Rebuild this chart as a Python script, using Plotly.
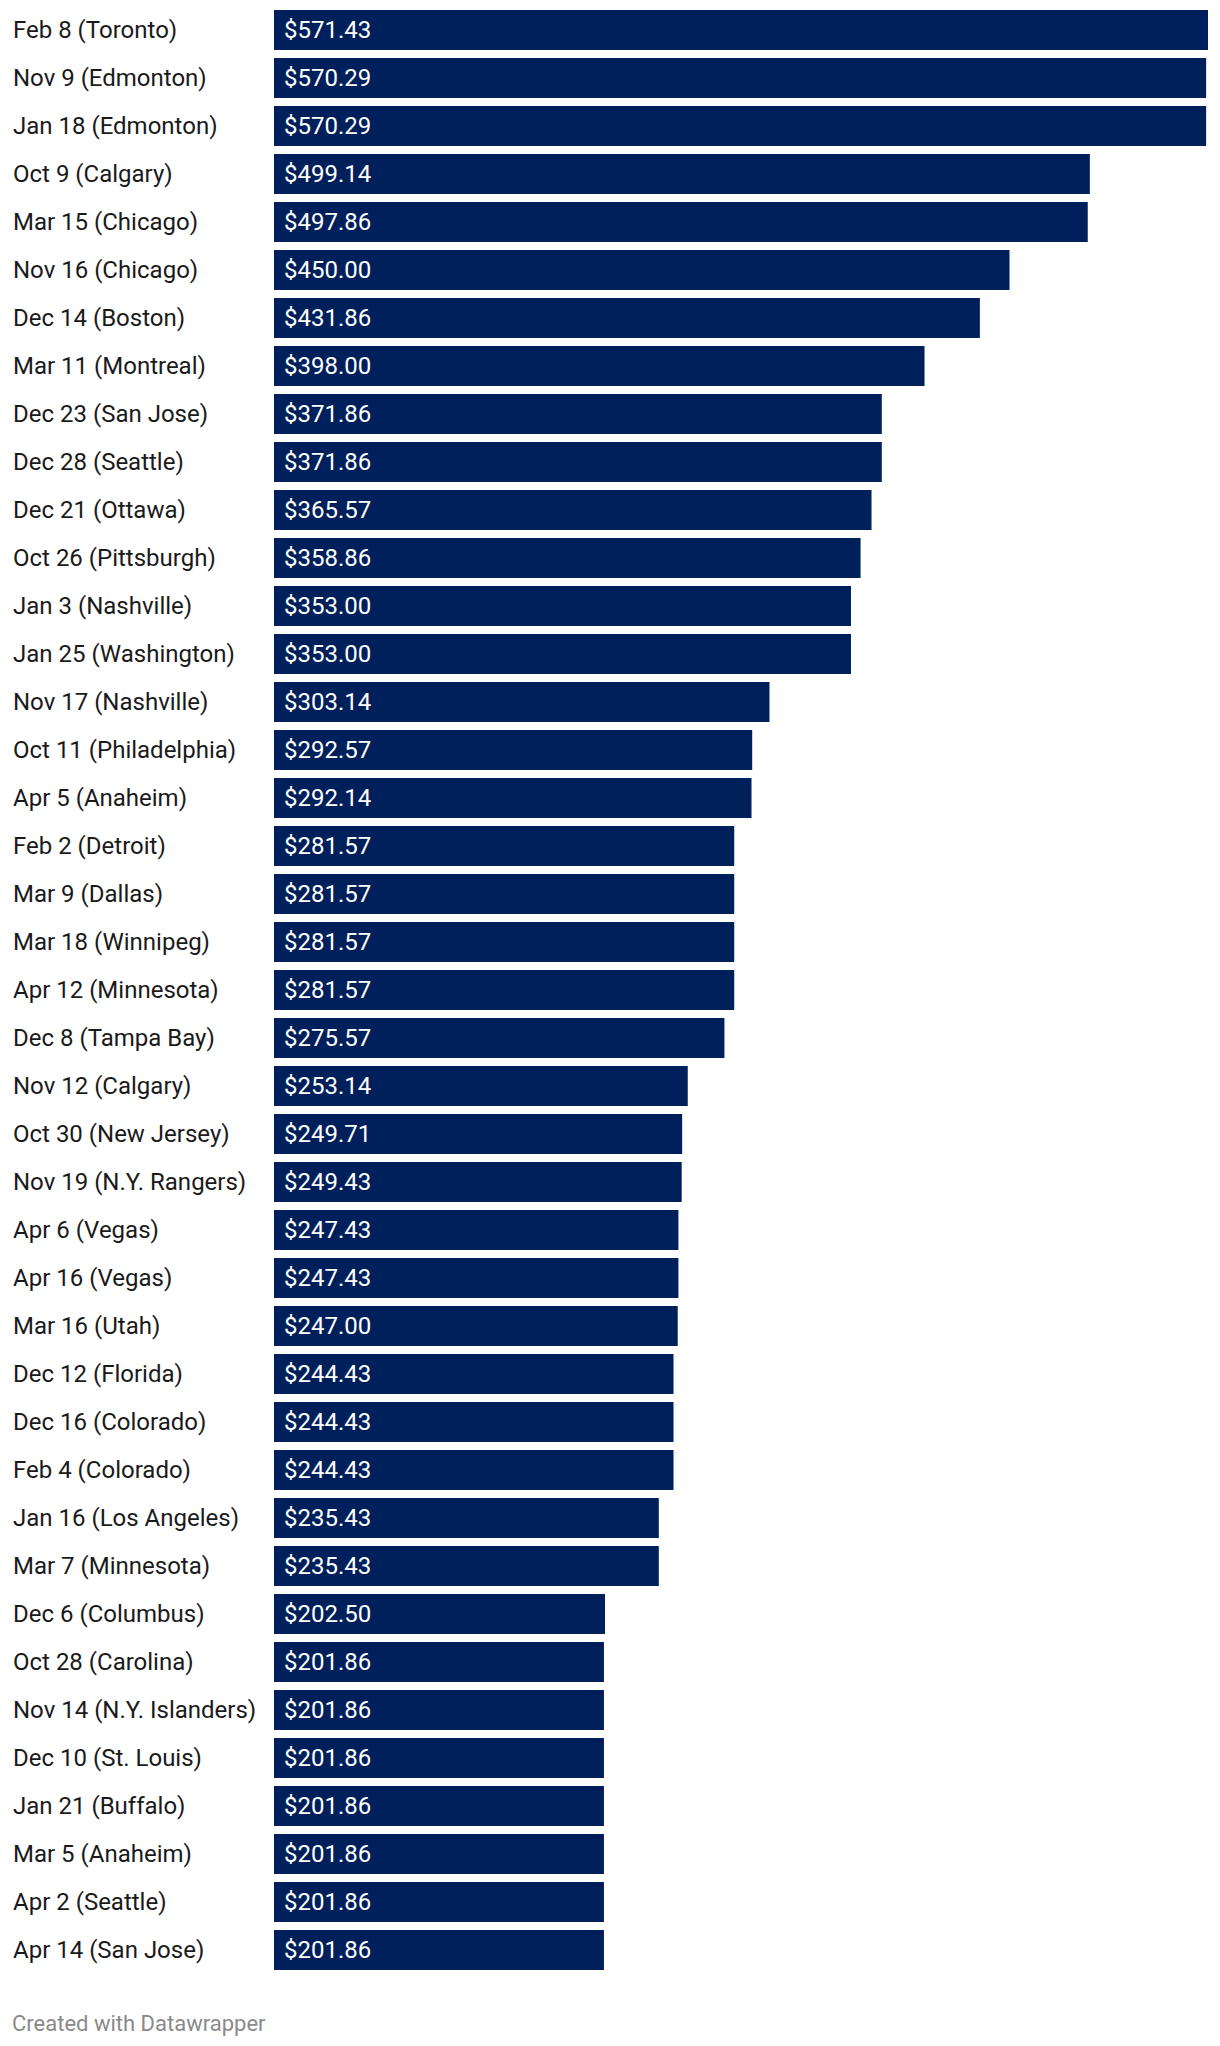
import plotly.graph_objects as go

# games and the price shown for each
games = [
    "Feb 8 (Toronto)", "Nov 9 (Edmonton)", "Jan 18 (Edmonton)", "Oct 9 (Calgary)",
    "Mar 15 (Chicago)", "Nov 16 (Chicago)", "Dec 14 (Boston)", "Mar 11 (Montreal)",
    "Dec 23 (San Jose)", "Dec 28 (Seattle)", "Dec 21 (Ottawa)", "Oct 26 (Pittsburgh)",
    "Jan 3 (Nashville)", "Jan 25 (Washington)", "Nov 17 (Nashville)",
    "Oct 11 (Philadelphia)", "Apr 5 (Anaheim)", "Feb 2 (Detroit)", "Mar 9 (Dallas)",
    "Mar 18 (Winnipeg)", "Apr 12 (Minnesota)", "Dec 8 (Tampa Bay)", "Nov 12 (Calgary)",
    "Oct 30 (New Jersey)", "Nov 19 (N.Y. Rangers)", "Apr 6 (Vegas)", "Apr 16 (Vegas)",
    "Mar 16 (Utah)", "Dec 12 (Florida)", "Dec 16 (Colorado)", "Feb 4 (Colorado)",
    "Jan 16 (Los Angeles)", "Mar 7 (Minnesota)", "Dec 6 (Columbus)", "Oct 28 (Carolina)",
    "Nov 14 (N.Y. Islanders)", "Dec 10 (St. Louis)", "Jan 21 (Buffalo)",
    "Mar 5 (Anaheim)", "Apr 2 (Seattle)", "Apr 14 (San Jose)",
]
prices = [
    571.43, 570.29, 570.29, 499.14, 497.86, 450.00, 431.86, 398.00, 371.86, 371.86,
    365.57, 358.86, 353.00, 353.00, 303.14, 292.57, 292.14, 281.57, 281.57, 281.57,
    281.57, 275.57, 253.14, 249.71, 249.43, 247.43, 247.43, 247.00, 244.43, 244.43,
    244.43, 235.43, 235.43, 202.50, 201.86, 201.86, 201.86, 201.86, 201.86, 201.86,
    201.86,
]

NAVY = "#00205B"
FONT = "Roboto"

fig = go.Figure(go.Bar(
    x=prices, y=games, orientation="h",
    marker=dict(color=NAVY, line=dict(width=0)),
    hoverinfo="skip",
))

ann = []
for g, p in zip(games, prices):
    # row label, left aligned at the page edge
    ann.append(dict(x=0, y=g, xref="paper", yref="y", xanchor="left", xshift=-263,
                    text=g, showarrow=False,
                    font=dict(family=FONT, size=24, color="#1a1a1a")))
    # value inside the bar
    ann.append(dict(x=0, y=g, xref="x", yref="y", xanchor="left", xshift=8,
                    text=f"${p:,.2f}", showarrow=False,
                    font=dict(family=FONT, size=24, color="white")))

ann.append(dict(x=0, y=0, xref="paper", yref="paper", xanchor="left", yanchor="top",
                xshift=-264, yshift=-35, text="Created with Datawrapper", showarrow=False,
                font=dict(family=FONT, size=22, color="#8a8a8a")))

# page body keeps its 8px default margin, so the figure is sized to fit inside it
fig.update_layout(
    width=1204, height=2030,
    margin=dict(l=266, r=4, t=0, b=64),
    paper_bgcolor="white", plot_bgcolor="white",
    bargap=8 / 48,
    showlegend=False,
    annotations=ann,
    xaxis=dict(range=[0, max(prices)], visible=False, fixedrange=True),
    yaxis=dict(range=[len(games) - 0.5, -22 / 48], showticklabels=False, showgrid=False,
               zeroline=False, fixedrange=True),
)

fig.write_html("out.html")
